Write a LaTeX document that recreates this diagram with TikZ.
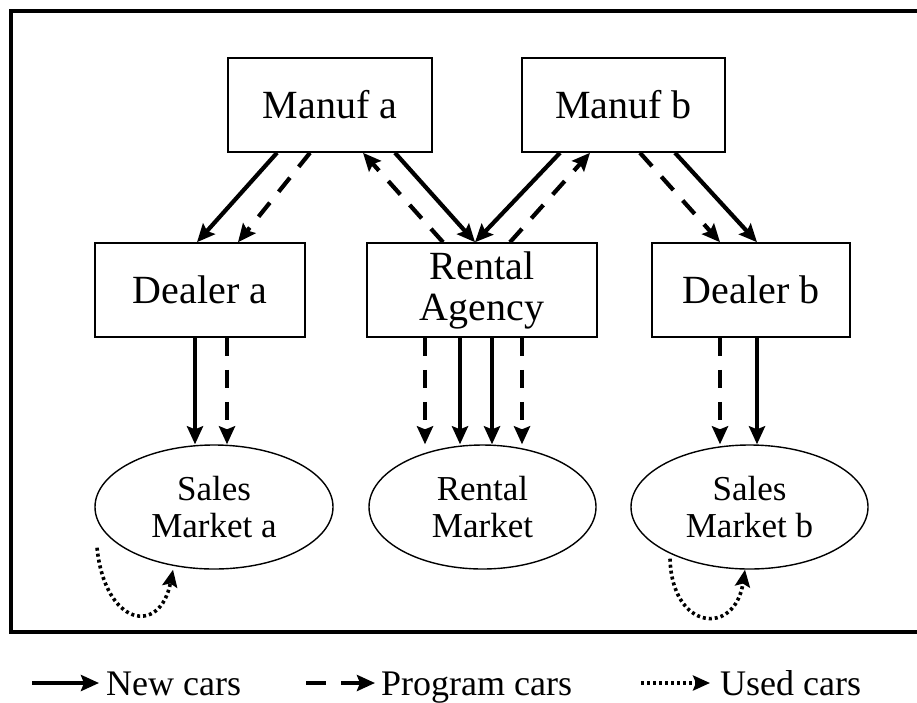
\documentclass[tikz,border=0pt]{standalone}
\usepackage{fontspec}
\setmainfont{Liberation Serif}
\usetikzlibrary{positioning}
\usetikzlibrary{shapes.geometric}
\usetikzlibrary{arrows.meta}

\tikzset{
  box/.style={draw,line width=1.6pt,minimum height=94pt,inner sep=0pt,align=center,font=\fontsize{40}{41}\selectfont},
  market/.style={draw,ellipse,line width=1.4pt,minimum height=124pt,inner sep=0pt,align=center,font=\fontsize{35}{37}\selectfont},
  legend/.style={anchor=base west,inner sep=0pt,font=\fontsize{36}{38}\selectfont},
  newcar/.style={-{Stealth[length=18pt,width=16pt,inset=3pt]},line width=4.2pt},
  progcar/.style={newcar,dash pattern=on 18pt off 14pt},
  usedcar/.style={-{Stealth[length=17pt,width=15pt,inset=3pt]},line width=3.6pt,dash pattern=on 3pt off 3pt},
}

\begin{document}
\begin{tikzpicture}[x=1pt,y=-1pt]
\useasboundingbox (0,0) rectangle (917,702);
\draw[line width=4pt] (11,11) rectangle (940,632);

% firms
\node[box,minimum width=204pt] (mfa) at (330,105) {Manuf a};
\node[box,minimum width=203pt] (mfb) at (623.5,105) {Manuf b};
\node[box,minimum width=210pt] (dla) at (200,290) {Dealer a};
\node[box,minimum width=230pt] (ra)  at (482,290) {Rental\\Agency};
\node[box,minimum width=198pt] (dlb) at (751,290) {Dealer b};

% markets
\node[market,minimum width=238pt] (sma) at (214,507) {Sales\\Market a};
\node[market,minimum width=227pt] (rm)  at (482.5,507) {Rental\\Market};
\node[market,minimum width=237pt] (smb) at (749.5,507) {Sales\\Market b};

% manufacturers to dealers and agency
\draw[newcar]  ([xshift=-53pt]mfa.south) -- ([xshift=-3pt]dla.north);
\draw[progcar] ([xshift=-20pt]mfa.south) -- ([xshift=38pt]dla.north);
\draw[progcar] ([xshift=-39pt]ra.north) -- ([xshift=33pt]mfa.south);
\draw[newcar]  ([xshift=65pt]mfa.south) -- ([xshift=-7pt]ra.north);
\draw[newcar]  ([xshift=-63.5pt]mfb.south) -- ([xshift=-7pt]ra.north);
\draw[progcar] ([xshift=28pt]ra.north) -- ([xshift=-33.5pt]mfb.south);
\draw[progcar] ([xshift=16.5pt]mfb.south) -- ([xshift=-31pt]dlb.north);
\draw[newcar]  ([xshift=51.5pt]mfb.south) -- ([xshift=6pt]dlb.north);

% dealers and agency to markets
\draw[newcar]  ([xshift=-5pt]dla.south) -- ([xshift=-5pt]dla.south |- sma.north);
\draw[progcar] ([xshift=27pt]dla.south) -- ([xshift=27pt]dla.south |- sma.north);
\draw[progcar] ([xshift=-57pt]ra.south) -- ([xshift=-57pt]ra.south |- rm.north);
\draw[newcar]  ([xshift=-22pt]ra.south) -- ([xshift=-22pt]ra.south |- rm.north);
\draw[newcar]  ([xshift=10pt]ra.south) -- ([xshift=10pt]ra.south |- rm.north);
\draw[progcar] ([xshift=40pt]ra.south) -- ([xshift=40pt]ra.south |- rm.north);
\draw[progcar] ([xshift=-31pt]dlb.south) -- ([xshift=-31pt]dlb.south |- smb.north);
\draw[newcar]  ([xshift=6pt]dlb.south) -- ([xshift=6pt]dlb.south |- smb.north);

% used cars
\draw[usedcar] ([shift={(-117,-22)}]sma.south) .. controls +(8,78) and +(-13,67) .. ([xshift=-41pt]sma.south);
\draw[usedcar] ([shift={(-79.5,-11)}]smb.south) .. controls +(2,72) and +(-10,67) .. ([xshift=-4.5pt]smb.south);

% legend
\coordinate (ln) at (32,683);
\coordinate (lp) at (306,683);
\coordinate (lu) at (641,683);
\node[legend] (tn) at (106,695) {New cars};
\node[legend] (tp) at (381,695) {Program cars};
\node[legend] (tu) at (720,695) {Used cars};
\draw[newcar] (ln) -- ([xshift=-7pt]ln -| tn.west);
\draw[progcar,dash pattern=on 20pt off 15pt] (lp) -- ([xshift=-6pt]lp -| tp.west);
\draw[usedcar] (lu) -- ([xshift=-10pt]lu -| tu.west);
\end{tikzpicture}
\end{document}
